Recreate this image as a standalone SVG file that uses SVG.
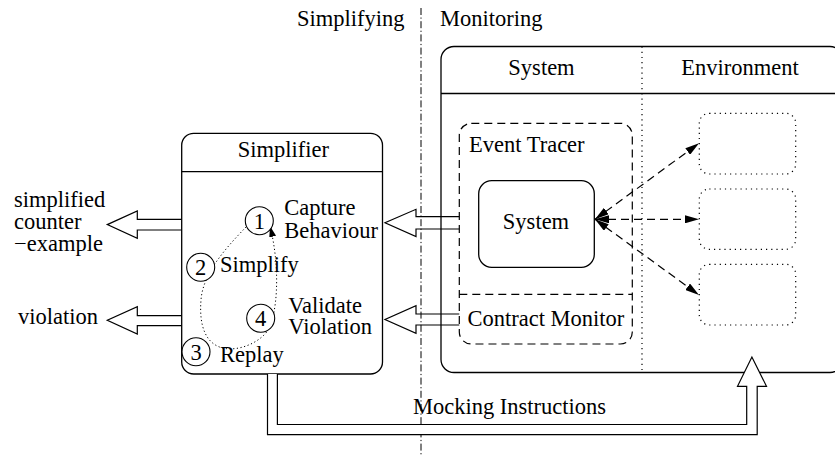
<svg xmlns="http://www.w3.org/2000/svg" width="835" height="456" viewBox="0 0 835 456">
<style>
text{font-family:'Liberation Serif','Times New Roman',Tinos,'DejaVu Serif',serif;font-size:22.5px;fill:#000}
.mid{text-anchor:middle}
.box{fill:#fff;stroke:#000;stroke-width:1.3}
.dash{fill:none;stroke:#000;stroke-width:1.2;stroke-dasharray:8 5}
.dot{fill:none;stroke:#000;stroke-width:1.2;stroke-dasharray:1.2 4}
.hollow{fill:none;stroke:#000;stroke-width:1.2}
.circ{fill:#fff;stroke:#000;stroke-width:1.1}
</style>
<defs>
<marker id="ah" viewBox="0 0 14 8" refX="14" refY="4" markerWidth="14" markerHeight="8" markerUnits="userSpaceOnUse" orient="auto-start-reverse">
<path d="M0,0 L14,4 L0,8 z" fill="#000"/>
</marker>
<marker id="ahs" viewBox="0 0 11 7" refX="11" refY="3.5" markerWidth="11" markerHeight="7" markerUnits="userSpaceOnUse" orient="auto">
<path d="M0,0 L11,3.5 L0,7 z" fill="#000"/>
</marker>
</defs>

<g id="divider">
<line x1="421" y1="8" x2="421" y2="456" stroke="#000" stroke-width="1" stroke-dasharray="7 2.5 1.2 2.5"/>
<text x="297" y="26">Simplifying</text>
<text x="440" y="26">Monitoring</text>
</g>

<g id="monitoring">
<rect class="box" x="441" y="46.5" width="402" height="326" rx="13"/>
<line x1="441" y1="93.5" x2="835" y2="93.5" stroke="#000" stroke-width="1.3"/>
<line class="dot" x1="642" y1="46.5" x2="642" y2="372.5"/>
<text class="mid" x="541.5" y="75">System</text>
<text class="mid" x="740" y="75">Environment</text>
</g>

<g id="event-tracer">
<rect class="dash" x="459.3" y="123.3" width="173" height="220.7" rx="12"/>
<line class="dash" x1="459.3" y1="294.3" x2="632.3" y2="294.3"/>
<text x="469" y="151.5">Event Tracer</text>
<text x="467.5" y="325.5">Contract Monitor</text>
</g>

<g id="system">
<rect class="box" x="478.7" y="180.7" width="115.6" height="86.6" rx="13"/>
<text class="mid" x="536" y="229">System</text>
</g>

<g id="env1"><rect class="dot" x="699.3" y="113.3" width="96.4" height="60.7" rx="10"/></g>
<g id="env2"><rect class="dot" x="699.3" y="189" width="96.4" height="60.3" rx="10"/></g>
<g id="env3"><rect class="dot" x="699.3" y="264.3" width="96.4" height="60.7" rx="10"/></g>

<g id="simplifier">
<rect class="box" x="181.7" y="133.3" width="200.8" height="240.7" rx="12"/>
<line x1="181.7" y1="171.7" x2="382.5" y2="171.7" stroke="#000" stroke-width="1.3"/>
<text class="mid" x="283.3" y="156.5">Simplifier</text>
</g>

<g id="outputs">
<text x="14" y="207">simplified<tspan x="14" y="229">counter</tspan><tspan x="14" y="250.5">−example</tspan></text>
<text x="18" y="323.5">violation</text>
</g>

<g id="connectors">
<path class="dash" d="M595,219.3 L699,143.3" marker-start="url(#ah)" marker-end="url(#ah)"/>
<path class="dash" d="M595,219.3 L699,219.3" marker-start="url(#ah)" marker-end="url(#ah)"/>
<path class="dash" d="M595,219.3 L699,295" marker-start="url(#ah)" marker-end="url(#ah)"/>
<path class="hollow" d="M459.3,216.7 L416,216.7 L416,209.3 L385,222.8 L416,236.5 L416,229 L459.3,229"/>
<path class="hollow" d="M459.3,314 L416,314 L416,305.7 L385,319.5 L416,333.3 L416,325 L459.3,325"/>
<path class="hollow" d="M181.7,219.3 L137.3,219.3 L137.3,211 L107.3,224.6 L137.3,238.3 L137.3,230 L181.7,230"/>
<path class="hollow" d="M181.7,315.7 L137.3,315.7 L137.3,306.7 L107.3,320.3 L137.3,334 L137.3,325.7 L181.7,325.7"/>
<path fill="#fff" stroke="#000" stroke-width="1.2" d="M267.5,374 L267.5,434.7 L757.2,434.7 L757.2,386.3 L766.5,386.3 L751.9,357 L737.5,386.3 L746.7,386.3 L746.7,424.5 L277.4,424.5 L277.4,374"/>
<text class="mid" x="509.5" y="414.3">Mocking Instructions</text>
<path fill="none" stroke="#000" stroke-width="1" stroke-dasharray="1.2 2.5" d="M246,227 C228,246 203,272 201,300 C199,325 205,345 225,348.5 C243,351 262,340 268,330 L272,320 C278,300 279,262 270,226" marker-end="url(#ahs)"/>
</g>

<g id="step1"><circle class="circ" cx="259.3" cy="220.7" r="14"/><text class="mid" x="259.3" y="228.5">1</text>
<text x="284.3" y="215">Capture<tspan x="284.3" y="238.3">Behaviour</tspan></text></g>
<g id="step2"><circle class="circ" cx="200.7" cy="267.3" r="14"/><text class="mid" x="200.7" y="275">2</text>
<text x="220" y="271.7">Simplify</text></g>
<g id="step3"><circle class="circ" cx="196" cy="351.7" r="14"/><text class="mid" x="196" y="359.5">3</text>
<text x="220" y="361.7">Replay</text></g>
<g id="step4"><circle class="circ" cx="260.7" cy="318.3" r="14"/><text class="mid" x="260.7" y="326">4</text>
<text x="288.3" y="312.7">Validate<tspan x="288.3" y="334">Violation</tspan></text></g>
</svg>
